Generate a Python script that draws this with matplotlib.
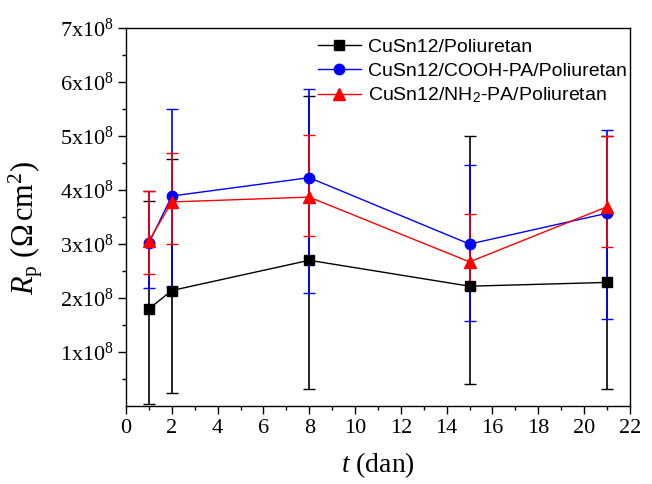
import matplotlib
matplotlib.use("Agg")
import matplotlib.pyplot as plt
import numpy as np
from matplotlib.ticker import FixedLocator, FuncFormatter
from matplotlib.lines import Line2D

plt.rcParams['font.family'] = ['Liberation Serif', 'DejaVu Serif']
plt.rcParams['mathtext.fontset'] = 'custom'
plt.rcParams['mathtext.rm'] = 'Liberation Serif'
plt.rcParams['mathtext.it'] = 'Liberation Serif:italic'
plt.rcParams['mathtext.bf'] = 'Liberation Serif:bold'
plt.rcParams['mathtext.sf'] = 'Liberation Sans'

# time (days)
t = [1, 2, 8, 15, 21]

# Rp values in units of 1e8 Ohm cm2
black_val = [1.80, 2.14, 2.70, 2.22, 2.29]
black_top = [3.80, 4.57, 5.75, 5.00, 5.00]
black_bot = [0.03, 0.24, 0.32, 0.40, 0.31]

blue_val = [3.02, 3.89, 4.23, 3.00, 3.57]
blue_top = [3.98, 5.50, 5.88, 4.46, 5.11]
blue_bot = [2.18, 2.20, 2.10, 1.58, 1.62]

red_val = [3.06, 3.78, 3.87, 2.67, 3.69]
red_top = [3.98, 4.68, 5.02, 3.55, 5.00]
red_bot = [2.44, 3.01, 3.15, 2.17, 2.94]

labels = ['CuSn12/Poliuretan', 'CuSn12/COOH-PA/Poliuretan', r'CuSn12/NH$_\mathsf{2}$-PA/Poliuretan']

SCALE = 1e8

fig = plt.figure(figsize=(6.52, 4.84), dpi=100)
ax = fig.add_axes([0.1933, 0.161, 0.7727, 0.781])

series = [
    (black_val, black_top, black_bot, 'black', 's', 6.5, labels[0]),
    (blue_val, blue_top, blue_bot, '#0000ff', 'o', 7.5, labels[1]),
    (red_val, red_top, red_bot, '#ff0000', '^', 8.5, labels[2]),
]
handles = []
for val, top, bot, col, mk, ms, lab in series:
    v = np.array(val) * SCALE
    lo = v - np.array(bot) * SCALE
    hi = np.array(top) * SCALE - v
    ax.errorbar(t, v, yerr=[lo, hi], color=col, marker=mk, markersize=ms,
                linewidth=1.0, elinewidth=1.2, capsize=4, capthick=1.0,
                ecolor=col)
    handles.append(Line2D([], [], color=col, marker=mk, markersize=ms, linewidth=1.0, label=lab))

ax.set_xlim(0, 22)
ax.set_ylim(0, 7e8)
ax.set_xticks(np.arange(0, 23, 2))
ax.xaxis.set_minor_locator(FixedLocator(np.arange(1, 22, 2)))
ax.yaxis.set_major_locator(FixedLocator(np.arange(1, 8) * SCALE))
ax.yaxis.set_minor_locator(FixedLocator((np.arange(1, 14, 2) * 0.5) * SCALE))
ax.yaxis.set_major_formatter(FuncFormatter(lambda v, p: r'%dx10$^{8}$' % round(v / SCALE)))

ax.tick_params(axis='both', which='major', direction='out', length=6, width=1.0,
               labelsize=16, top=False, right=False, pad=3)
ax.tick_params(axis='both', which='minor', direction='out', length=3, width=1.0,
               top=False, right=False)
for s in ax.spines.values():
    s.set_linewidth(1.0)

ax.set_xlabel(r'$t$ (dan)', fontsize=20, labelpad=9)
ax.set_ylabel(r'$R_{\mathrm{p}}$ ($\Omega\,$cm$^2$)', fontsize=22)
ax.yaxis.set_label_coords(-0.16, 0.47)

leg = ax.legend(handles=handles, loc='upper right', bbox_to_anchor=(1.022, 1.008), frameon=False,
                prop={'family': 'Liberation Sans', 'size': 14},
                handlelength=2.2, handletextpad=0.4, labelspacing=0.3, borderaxespad=0.3)

fig.savefig('out.png', dpi=100)
